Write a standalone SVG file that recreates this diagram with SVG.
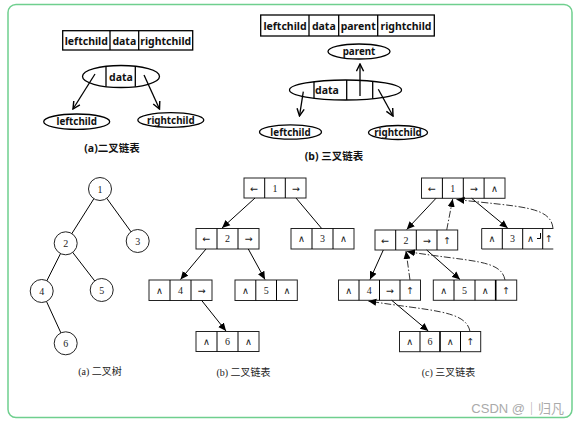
<svg xmlns="http://www.w3.org/2000/svg" width="579" height="425" viewBox="0 0 579 425">
<style>
.frame{fill:#fff;stroke:#6fcf8e;stroke-width:1.5}
.box{fill:none;stroke:#000;stroke-width:1.3}
.thin{fill:none;stroke:#000;stroke-width:1}
.cell{fill:#fff;stroke:#222;stroke-width:1}
.ln{stroke:#000;stroke-width:1;fill:none}
.dd{stroke:#333;stroke-width:1;fill:none;stroke-dasharray:7 2 1.5 2}
.bt{font-family:"Noto Sans","Liberation Sans","Noto Sans CJK SC",sans-serif;font-weight:bold;font-size:10.5px;text-anchor:middle;fill:#111}
.be{font-family:"Noto Sans","Liberation Sans","Noto Sans CJK SC",sans-serif;font-weight:bold;font-size:9.8px;text-anchor:middle;fill:#111}
.st{font-family:"Liberation Serif","Noto Sans CJK SC",serif;font-size:10px;text-anchor:middle;fill:#222}
.sym{font-family:"DejaVu Sans",sans-serif;font-size:9.5px;text-anchor:middle;fill:#222}
.cap{font-family:"Liberation Serif","Noto Sans CJK SC",serif;font-size:10px;text-anchor:middle;fill:#222}
.wm{font-family:"Liberation Sans","Noto Sans CJK SC",sans-serif;font-size:13px;text-anchor:end;fill:#aaa}
</style>
<defs>
<marker id="open" viewBox="0 0 10 10" refX="9" refY="5" markerWidth="9" markerHeight="9" markerUnits="userSpaceOnUse" orient="auto">
<path d="M1,1 L9,5 L1,9" fill="none" stroke="#000" stroke-width="1.6"/>
</marker>
<marker id="fill" viewBox="0 0 10 10" refX="10" refY="5" markerWidth="8" markerHeight="8" markerUnits="userSpaceOnUse" orient="auto">
<path d="M0,0.5 L10,5 L0,9.5 z" fill="#000"/>
</marker>
</defs>
<rect class="frame" x="8" y="4.5" width="564" height="413" rx="8"/>

<!-- top (a) -->
<g id="a-table">
<rect class="box" x="62.7" y="30.7" width="130" height="19.3"/>
<line class="box" x1="110" y1="30.7" x2="110" y2="50"/>
<line class="box" x1="138.7" y1="30.7" x2="138.7" y2="50"/>
<text class="bt" x="86.3" y="44.5">leftchild</text>
<text class="bt" x="124.3" y="44.5">data</text>
<text class="bt" x="165.7" y="44.5">rightchild</text>
</g>
<g id="a-data">
<ellipse class="box" cx="121" cy="76.5" rx="38.5" ry="11"/>
<line class="box" x1="106" y1="66.3" x2="106" y2="86.7"/>
<line class="box" x1="135.3" y1="66.3" x2="135.3" y2="86.7"/>
<text class="bt" x="121" y="80.5">data</text>
</g>
<g id="a-left">
<ellipse class="box" cx="76.7" cy="121.7" rx="33" ry="7.7"/>
<text class="be" x="76.7" y="125.3">leftchild</text>
</g>
<g id="a-right">
<ellipse class="box" cx="170.8" cy="120" rx="33" ry="7.4"/>
<text class="be" x="170.8" y="123.6">rightchild</text>
</g>
<text class="bt" x="112" y="152">(a)二叉链表</text>

<!-- top (b) -->
<g id="b-table">
<rect class="box" x="260.7" y="15" width="173.6" height="21"/>
<line class="box" x1="309" y1="15" x2="309" y2="36"/>
<line class="box" x1="338.7" y1="15" x2="338.7" y2="36"/>
<line class="box" x1="377.7" y1="15" x2="377.7" y2="36"/>
<text class="bt" x="285" y="29.5">leftchild</text>
<text class="bt" x="323.8" y="29.5">data</text>
<text class="bt" x="358.2" y="29.5">parent</text>
<text class="bt" x="406" y="29.5">rightchild</text>
</g>
<g id="b-parent">
<ellipse class="box" cx="359" cy="51.5" rx="31" ry="7.5"/>
<text class="be" x="359" y="55.2">parent</text>
</g>
<g id="b-data">
<ellipse class="box" cx="345.5" cy="90" rx="56" ry="10"/>
<line class="box" x1="314" y1="81.7" x2="314" y2="98.3"/>
<line class="box" x1="346.7" y1="80" x2="346.7" y2="100"/>
<line class="box" x1="372.7" y1="81.3" x2="372.7" y2="98.7"/>
<text class="bt" x="327" y="93.5">data</text>
</g>
<g id="b-left">
<ellipse class="box" cx="290.5" cy="132" rx="31" ry="7.2"/>
<text class="be" x="290.5" y="135.6">leftchild</text>
</g>
<g id="b-right">
<ellipse class="box" cx="398" cy="132.5" rx="29.5" ry="7"/>
<text class="be" x="398" y="136.1">rightchild</text>
</g>
<text class="bt" x="334" y="160">(b) 三叉链表</text>

<g id="top-connectors">
<line class="box" x1="95" y1="74" x2="73" y2="109" marker-end="url(#open)"/>
<line class="box" x1="144" y1="75" x2="159.5" y2="109" marker-end="url(#open)"/>
<line class="box" x1="360" y1="96" x2="360" y2="64" marker-end="url(#open)"/>
<line class="box" x1="303.3" y1="91.7" x2="299.5" y2="116" marker-end="url(#open)"/>
<line class="box" x1="378.3" y1="89.3" x2="393" y2="116" marker-end="url(#open)"/>
</g>

<!-- bottom (a) tree -->
<g id="tree-edges">
<line class="ln" x1="100" y1="189" x2="65.7" y2="243.3"/>
<line class="ln" x1="100" y1="189" x2="137.7" y2="241"/>
<line class="ln" x1="65.7" y1="243.3" x2="41.7" y2="291"/>
<line class="ln" x1="65.7" y1="243.3" x2="101.7" y2="290"/>
<line class="ln" x1="41.7" y1="291" x2="65.7" y2="343.3"/>
</g>
<g id="t1"><circle class="cell" cx="100" cy="189" r="11.5"/><text class="st" x="100" y="192.5">1</text></g>
<g id="t2"><circle class="cell" cx="65.7" cy="243.3" r="11.5"/><text class="st" x="65.7" y="246.8">2</text></g>
<g id="t3"><circle class="cell" cx="137.7" cy="241" r="11.5"/><text class="st" x="137.7" y="244.5">3</text></g>
<g id="t4"><circle class="cell" cx="41.7" cy="291" r="11.5"/><text class="st" x="41.7" y="294.5">4</text></g>
<g id="t5"><circle class="cell" cx="101.7" cy="290" r="11.5"/><text class="st" x="101.7" y="293.5">5</text></g>
<g id="t6"><circle class="cell" cx="65.7" cy="343.3" r="11.5"/><text class="st" x="65.7" y="346.8">6</text></g>
<text class="cap" x="100" y="375">(a) 二叉树</text>

<!-- bottom (b) binary linked list -->
<g id="b1">
<rect class="cell" x="244" y="178" width="62" height="20"/>
<line class="thin" x1="264.7" y1="178" x2="264.7" y2="198"/><line class="thin" x1="285.3" y1="178" x2="285.3" y2="198"/>
<text class="sym" x="254.3" y="191.5">←</text><text class="st" x="275" y="191.5">1</text><text class="sym" x="295.7" y="191.5">→</text>
</g>
<g id="b2">
<rect class="cell" x="196" y="228.5" width="63" height="20.5"/>
<line class="thin" x1="217" y1="228.5" x2="217" y2="249"/><line class="thin" x1="238" y1="228.5" x2="238" y2="249"/>
<text class="sym" x="206.5" y="242.3">←</text><text class="st" x="227.5" y="242.3">2</text><text class="sym" x="248.5" y="242.3">→</text>
</g>
<g id="b3">
<rect class="cell" x="291" y="228.5" width="63" height="20.5"/>
<line class="thin" x1="312" y1="228.5" x2="312" y2="249"/><line class="thin" x1="333" y1="228.5" x2="333" y2="249"/>
<text class="sym" x="301.5" y="242.3">∧</text><text class="st" x="322.5" y="242.3">3</text><text class="sym" x="343.5" y="242.3">∧</text>
</g>
<g id="b4">
<rect class="cell" x="149" y="280" width="63" height="20.5"/>
<line class="thin" x1="170" y1="280" x2="170" y2="300.5"/><line class="thin" x1="191" y1="280" x2="191" y2="300.5"/>
<text class="sym" x="159.5" y="293.8">∧</text><text class="st" x="180.5" y="293.8">4</text><text class="sym" x="201.5" y="293.8">→</text>
</g>
<g id="b5">
<rect class="cell" x="235" y="280" width="62.3" height="20.5"/>
<line class="thin" x1="255.8" y1="280" x2="255.8" y2="300.5"/><line class="thin" x1="276.5" y1="280" x2="276.5" y2="300.5"/>
<text class="sym" x="245.4" y="293.8">∧</text><text class="st" x="266.2" y="293.8">5</text><text class="sym" x="287" y="293.8">∧</text>
</g>
<g id="b6">
<rect class="cell" x="196" y="331.5" width="63" height="20"/>
<line class="thin" x1="217" y1="331.5" x2="217" y2="351.5"/><line class="thin" x1="238" y1="331.5" x2="238" y2="351.5"/>
<text class="sym" x="206.5" y="345">∧</text><text class="st" x="227.5" y="345">6</text><text class="sym" x="248.5" y="345">∧</text>
</g>
<text class="cap" x="243.5" y="375.5">(b) 二叉链表</text>

<!-- bottom (c) three-fork linked list -->
<g id="c1">
<rect class="cell" x="421.5" y="178" width="83.5" height="20.3"/>
<line class="thin" x1="442.4" y1="178" x2="442.4" y2="198.3"/><line class="thin" x1="463.3" y1="178" x2="463.3" y2="198.3"/><line class="thin" x1="484.1" y1="178" x2="484.1" y2="198.3"/>
<text class="sym" x="432" y="191.7">←</text><text class="st" x="452.8" y="191.7">1</text><text class="sym" x="473.7" y="191.7">→</text><text class="sym" x="494.5" y="191.7">∧</text>
</g>
<g id="c2">
<rect class="cell" x="375" y="230" width="82.7" height="20"/>
<line class="thin" x1="395.7" y1="230" x2="395.7" y2="250"/><line class="thin" x1="416.3" y1="230" x2="416.3" y2="250"/><line class="thin" x1="437" y1="230" x2="437" y2="250"/>
<text class="sym" x="385.3" y="243.5">←</text><text class="st" x="406" y="243.5">2</text><text class="sym" x="426.7" y="243.5">→</text><text class="sym" x="447.3" y="243.5">↑</text>
</g>
<g id="c3">
<path class="cell" d="M553.3,228.5 L481.7,228.5 L481.7,249 L553.3,249"/>
<line class="thin" x1="502.3" y1="228.5" x2="502.3" y2="249"/><line class="thin" x1="522.7" y1="228.5" x2="522.7" y2="249"/><line class="thin" x1="542.7" y1="228.5" x2="542.7" y2="249"/>
<text class="sym" x="492" y="242.3">∧</text><text class="st" x="512.5" y="242.3">3</text><text class="sym" x="530.5" y="242.3">∧</text><text class="sym" x="549" y="242.3">↑</text>
<path class="thin" d="M540.5,233 L540.5,238.5 L537,238.5"/>
</g>
<g id="c4">
<rect class="cell" x="338.5" y="280" width="82" height="20.3"/>
<line class="thin" x1="359" y1="280" x2="359" y2="300.3"/><line class="thin" x1="379.5" y1="280" x2="379.5" y2="300.3"/><line class="thin" x1="400" y1="280" x2="400" y2="300.3"/>
<text class="sym" x="348.7" y="293.8">∧</text><text class="st" x="369.2" y="293.8">4</text><text class="sym" x="389.7" y="293.8">→</text><text class="sym" x="410.2" y="293.8">↑</text>
</g>
<g id="c5">
<rect class="cell" x="433.3" y="280" width="83.4" height="20.3"/>
<line class="thin" x1="454" y1="280" x2="454" y2="300.3"/><line class="thin" x1="475" y1="280" x2="475" y2="300.3"/><line x1="495.7" y1="280" x2="495.7" y2="300.3" stroke="#000" stroke-width="1.6"/>
<text class="sym" x="443.7" y="293.8">∧</text><text class="st" x="464.5" y="293.8">5</text><text class="sym" x="485.3" y="293.8">∧</text><text class="sym" x="506.2" y="293.8">↑</text>
</g>
<g id="c6">
<rect class="cell" x="399.5" y="331.5" width="81.2" height="20.2"/>
<line class="thin" x1="420" y1="331.5" x2="420" y2="351.7"/><line x1="440" y1="331.5" x2="440" y2="351.7" stroke="#000" stroke-width="1.6"/><line class="thin" x1="460.5" y1="331.5" x2="460.5" y2="351.7"/>
<text class="sym" x="409.7" y="345">∧</text><text class="st" x="430" y="345">6</text><text class="sym" x="450.2" y="345">∧</text><text class="sym" x="470.6" y="345">↑</text>
</g>
<text class="cap" x="448.5" y="376">(c) 三叉链表</text>

<g id="connectors">
<line class="ln" x1="255" y1="198" x2="222" y2="228" marker-end="url(#fill)"/>
<line class="ln" x1="296" y1="198" x2="321.7" y2="228.5"/>
<line class="ln" x1="206" y1="249" x2="180.5" y2="279.5" marker-end="url(#fill)"/>
<line class="ln" x1="248.3" y1="249" x2="265" y2="279.5" marker-end="url(#fill)"/>
<line class="ln" x1="201.7" y1="300.5" x2="226" y2="331" marker-end="url(#fill)"/>

<line class="ln" x1="436" y1="198.3" x2="406.7" y2="229.5" marker-end="url(#fill)"/>
<line class="ln" x1="471.7" y1="198.3" x2="507.7" y2="228" marker-end="url(#fill)"/>
<line class="ln" x1="383.3" y1="250" x2="370" y2="279.5" marker-end="url(#fill)"/>
<line class="ln" x1="426.7" y1="250" x2="460" y2="279.5" marker-end="url(#fill)"/>
<line class="ln" x1="391.7" y1="300.3" x2="428.3" y2="331" marker-end="url(#fill)"/>

<line class="dd" x1="446.7" y1="230" x2="452.7" y2="199" marker-end="url(#fill)"/>
<path class="dd" d="M553,228.5 C551,206 520,207 456.5,199.5" marker-end="url(#fill)"/>
<line class="dd" x1="410" y1="280" x2="406" y2="251" marker-end="url(#fill)"/>
<path class="dd" d="M505,280 C501,259 470,262 407,251.5" marker-end="url(#fill)"/>
<path class="dd" d="M470,331.5 C466,310 430,311 368.3,301" marker-end="url(#fill)"/>
</g>

<text class="wm" x="564" y="413">CSDN @｜归凡</text>
</svg>
